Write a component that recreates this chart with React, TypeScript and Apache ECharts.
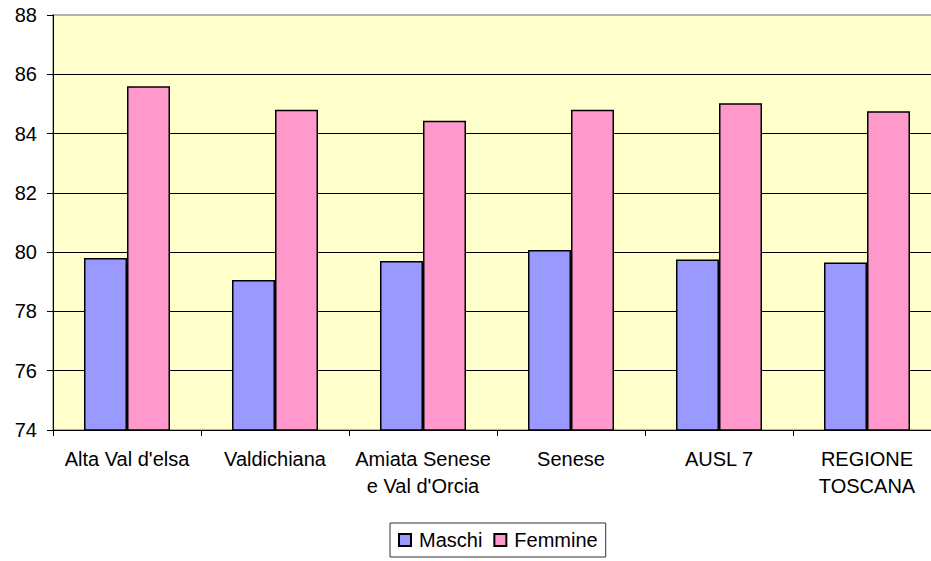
import React, { useEffect, useRef } from "react";
import * as echarts from "echarts";

const categories = [
  "Alta Val d'elsa",
  "Valdichiana",
  "Amiata Senese\ne Val d'Orcia",
  "Senese",
  "AUSL 7",
  "REGIONE\nTOSCANA",
];
const maschi = [79.8, 79.06, 79.7, 80.07, 79.75, 79.65];
const femmine = [85.6, 84.8, 84.43, 84.8, 85.02, 84.75];
const seriesNames = ["Maschi", "Femmine"];

const FONT = "'Liberation Sans', Arial, sans-serif";

export default function App() {
  const ref = useRef<HTMLDivElement>(null);
  useEffect(() => {
    if (!ref.current) return;
    const chart = echarts.init(ref.current, undefined, { renderer: "svg" });
    chart.setOption({
      animation: false,
      backgroundColor: "#ffffff",
      textStyle: { fontFamily: FONT, color: "#000" },
      grid: {
        left: 53,
        top: 15,
        width: 888,
        height: 415,
        outerBoundsMode: "none",
        containLabel: false,
        show: true,
        backgroundColor: "#FFFFCC",
        borderColor: "#999999",
        borderWidth: 1.5,
      },
      legend: {
        left: 390,
        top: 523,
        padding: [7, 8, 7, 8],
        borderColor: "#333",
        borderWidth: 1,
        itemWidth: 12,
        itemHeight: 12,
        itemGap: 11,
        icon: "rect",
        textStyle: {
          fontFamily: FONT,
          fontSize: 20,
          color: "#000",
          lineHeight: 20,
          padding: [0, 0, 0, 3],
        },
        data: seriesNames,
      },
      xAxis: {
        type: "category",
        data: categories,
        axisLine: { lineStyle: { color: "#000", width: 1 } },
        axisTick: { show: true, length: 6, lineStyle: { color: "#000" } },
        axisLabel: {
          interval: 0,
          margin: 15,
          fontSize: 20,
          lineHeight: 27,
          color: "#000",
          fontFamily: FONT,
        },
      },
      yAxis: {
        type: "value",
        min: 74,
        max: 88,
        interval: 2,
        axisLine: { show: true, lineStyle: { color: "#000", width: 1 } },
        axisTick: { show: true, length: 6, lineStyle: { color: "#000" } },
        axisLabel: { margin: 16, fontSize: 20, color: "#000", fontFamily: FONT },
        splitLine: {
          show: true,
          showMaxLine: false,
          showMinLine: false,
          lineStyle: { color: "#000", width: 1 },
        },
      },
      series: [
        {
          name: seriesNames[0],
          type: "bar",
          data: maschi,
          barWidth: 43,
          barGap: "0%",
          itemStyle: { color: "#9999FF", borderColor: "#000", borderWidth: 1.5 },
        },
        {
          name: seriesNames[1],
          type: "bar",
          data: femmine,
          barWidth: 43,
          barGap: "0%",
          itemStyle: { color: "#FF99CC", borderColor: "#000", borderWidth: 1.5 },
        },
      ],
    });
    return () => chart.dispose();
  }, []);
  return (
    <div
      ref={ref}
      style={{ position: "fixed", left: 0, top: 0, width: 931, height: 561 }}
    />
  );
}
